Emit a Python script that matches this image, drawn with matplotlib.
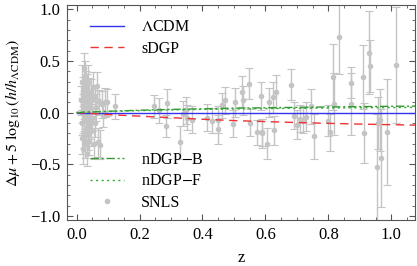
import matplotlib.pyplot as plt
import numpy as np
from matplotlib.ticker import MultipleLocator

plt.rcParams['font.family'] = ['Liberation Serif', 'DejaVu Serif']
plt.rcParams['mathtext.fontset'] = 'stix'

# model curves
zc = [0.0, 0.1, 0.2, 0.3, 0.4, 0.5, 0.6, 0.7, 0.8, 0.9, 1.0, 1.08]
lcdm = [0.0] * len(zc)
sdgp = [0.0, -0.02, -0.035, -0.05, -0.065, -0.078, -0.088, -0.097, -0.105, -0.112, -0.118, -0.122]
ndgp_b = [0.0, 0.012, 0.022, 0.03, 0.036, 0.042, 0.046, 0.05, 0.054, 0.057, 0.06, 0.062]
ndgp_f = [0.0, 0.01, 0.018, 0.025, 0.03, 0.034, 0.038, 0.041, 0.044, 0.046, 0.048, 0.05]

# SNLS data (z, residual, error)
z_sn = [0.015, 0.016, 0.017, 0.018, 0.019, 0.020, 0.021, 0.022, 0.023, 0.024,
        0.025, 0.026, 0.027, 0.028, 0.029, 0.030, 0.031, 0.032, 0.033, 0.034,
        0.035, 0.036, 0.037, 0.038, 0.040, 0.041, 0.043, 0.045, 0.046, 0.048,
        0.050, 0.052, 0.055, 0.057, 0.060, 0.062, 0.065, 0.068, 0.072, 0.076,
        0.080, 0.085, 0.090, 0.097, 0.122,
        0.246, 0.262, 0.284, 0.287, 0.33, 0.337, 0.347, 0.35, 0.367,
        0.415, 0.43, 0.449, 0.45, 0.462, 0.47, 0.497, 0.503, 0.525, 0.53,
        0.548, 0.55, 0.573, 0.585, 0.588, 0.59, 0.605, 0.612, 0.623, 0.627,
        0.633, 0.68, 0.69, 0.70, 0.71, 0.72, 0.73, 0.745, 0.755, 0.80,
        0.805, 0.814, 0.818, 0.833, 0.871, 0.873, 0.91, 0.912, 0.93, 0.932,
        0.955, 0.957, 0.964, 0.966, 0.986, 1.014]
y_sn = [0.12, -0.25, 0.30, -0.10, 0.05, -0.35, 0.20, 0.43, -0.05, 0.15,
        -0.20, 0.35, 0.02, -0.30, 0.25, -0.15, 0.10, -0.40, 0.22, -0.08,
        0.30, -0.22, 0.08, 0.18, -0.12, -0.28, 0.05, 0.20, -0.18, 0.12,
        -0.05, 0.25, -0.30, 0.15, -0.10, 0.05, 0.26, -0.29, 0.10, -0.31,
        0.08, -0.02, 0.10, 0.10, 0.06,
        0.06, 0.02, -0.13, 0.09, -0.29, -0.01, 0.02, -0.05, -0.07,
        -0.05, -0.08, -0.16, -0.07, 0.07, 0.12, -0.11, 0.10, 0.20, 0.12,
        0.28, -0.10, -0.19, 0.16, -0.19, -0.20, -0.30, 0.10, 0.15, -0.17,
        0.20, 0.27, -0.03, -0.12, -0.06, -0.08, -0.04, 0.06, -0.23, -0.08,
        -0.19, 0.34, 0.08, 0.73, 0.29, 0.08, 0.34, -0.20, 0.58, 0.45,
        -0.53, -0.10, -0.07, -0.44, -0.19, 0.46]
e_sn = [0.14, 0.15, 0.16, 0.12, 0.13, 0.15, 0.14, 0.15, 0.13, 0.16,
        0.14, 0.15, 0.12, 0.14, 0.15, 0.13, 0.14, 0.12, 0.15, 0.13,
        0.16, 0.14, 0.13, 0.15, 0.14, 0.13, 0.15, 0.12, 0.14, 0.15,
        0.13, 0.14, 0.15, 0.12, 0.14, 0.13, 0.13, 0.14, 0.12, 0.14,
        0.13, 0.12, 0.14, 0.13, 0.12,
        0.11, 0.12, 0.11, 0.14, 0.16, 0.12, 0.13, 0.12, 0.13,
        0.13, 0.12, 0.14, 0.13, 0.12, 0.13, 0.13, 0.14, 0.15, 0.14,
        0.15, 0.13, 0.12, 0.14, 0.13, 0.14, 0.15, 0.14, 0.15, 0.14,
        0.16, 0.15, 0.13, 0.14, 0.13, 0.12, 0.14, 0.17, 0.22, 0.15,
        0.18, 0.32, 0.30, 0.36, 0.15, 0.30, 0.31, 0.29, 0.40, 0.25,
        0.52, 0.25, 0.30, 0.47, 0.51, 0.56]

fig = plt.figure(figsize=(4.17, 2.66), dpi=100)
ax = fig.add_axes([0.161, 0.173, 0.834, 0.808])

ax.errorbar(z_sn, y_sn, yerr=e_sn, fmt='o', color='#c4c4c4', ms=3, elinewidth=1,
            capsize=3, capthick=0.8, zorder=1)
l1, = ax.plot(zc, lcdm, color='#3333ee', lw=1, zorder=3)
l2, = ax.plot(zc, sdgp, color='#ee3333', lw=1, ls=(0, (6, 4)), zorder=3)
l3, = ax.plot(zc, ndgp_b, color='#339933', lw=1, ls=(0, (6, 2, 1.5, 2)), zorder=3)
l4, = ax.plot(zc, ndgp_f, color='#33aa33', lw=1, ls=(0, (1.5, 2.5)), zorder=3)
pt, = ax.plot([], [], 'o', color='#c4c4c4', ms=3)

leg1 = ax.legend([l1, l2], ['$\\Lambda$CDM', 'sDGP'], loc='upper left',
                 bbox_to_anchor=(0.025, 1.0), frameon=False, fontsize=11.5,
                 handlelength=2.1, handletextpad=1.1, labelspacing=0.35)
ax.add_artist(leg1)
ax.legend([l3, l4, pt], ['nDGP$-$B', 'nDGP$-$F', 'SNLS'], loc='lower left',
          bbox_to_anchor=(0.025, -0.025), frameon=False, fontsize=11.5,
          handlelength=2.1, handletextpad=1.1, labelspacing=0.35)

ax.set_xlim(-0.03, 1.075)
ax.set_ylim(-1.04, 1.04)
ax.xaxis.set_major_locator(MultipleLocator(0.2))
ax.xaxis.set_minor_locator(MultipleLocator(0.05))
ax.yaxis.set_major_locator(MultipleLocator(0.5))
ax.yaxis.set_minor_locator(MultipleLocator(0.1))
ax.xaxis.set_major_formatter(lambda v, p: f'{v:.1f}')
ax.yaxis.set_major_formatter(lambda v, p: f'{v:.1f}'.replace('-', '\u2212'))
ax.tick_params(which='both', direction='in', top=True, right=True, labelsize=12,
               color='#555555')
ax.tick_params(which='major', length=4, pad=5)
ax.tick_params(which='minor', length=2)
for s in ax.spines.values():
    s.set_color('#555555')

ax.set_xlabel('z', fontsize=12, labelpad=5)
ax.set_ylabel('$\\Delta\\mu + 5\\ \\log_{10}(h/h_{\\Lambda\\mathrm{CDM}})$', fontsize=11.5, labelpad=6)

fig.savefig('out.png', dpi=100)
